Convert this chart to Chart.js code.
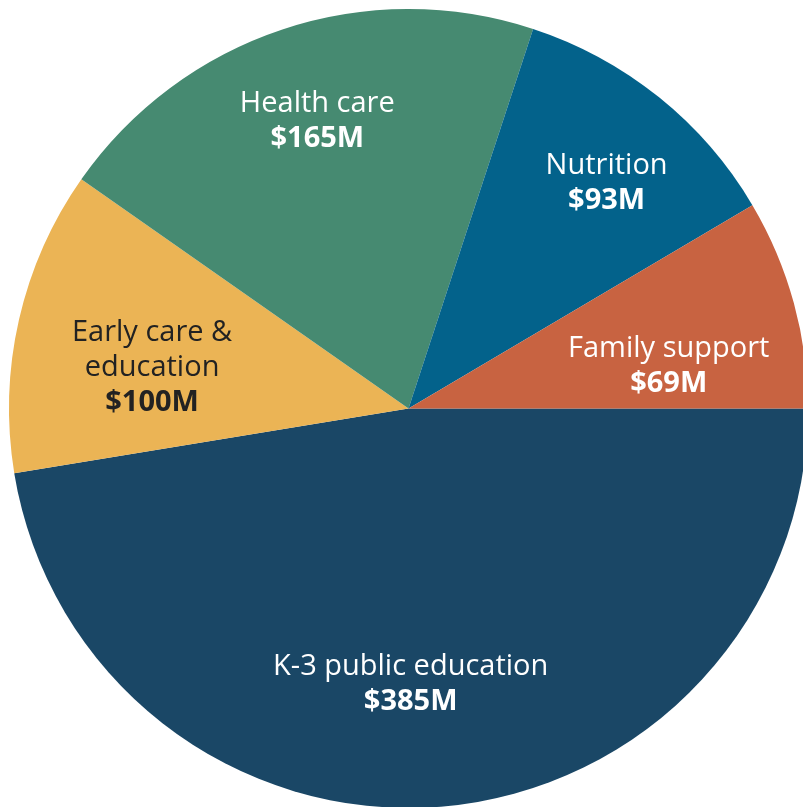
<!DOCTYPE html>
<html>
<head>
<meta charset="utf-8">
<script src="https://cdn.jsdelivr.net/npm/chart.js@4"></script>
<style>
  html, body { margin: 0; padding: 0; background: #ffffff; overflow: hidden; }
  #wrap { position: absolute; left: 0; top: 0; width: 817px; height: 817px; }
</style>
</head>
<body>
<div id="wrap"><canvas id="budget-pie"></canvas></div>
<script>
// Spending categories (clockwise from 3 o'clock)
var categories = ['K-3 public education', 'Early care & education', 'Health care', 'Nutrition', 'Family support'];
var amounts = [385, 100, 165, 93, 69];       // $ millions
var valueLabels = ['$385M', '$100M', '$165M', '$93M', '$69M'];
var nameLines = [['K-3 public education'], ['Early care &', 'education'], ['Health care'], ['Nutrition'], ['Family support']];

var sliceColors = ['#1a4766', '#ebb455', '#468a71', '#03628b', '#c86341'];
var textColors = ['#ffffff', '#222222', '#ffffff', '#ffffff', '#ffffff'];
// label placement: angle nudge (deg) and fraction of radius
var labelNudge = [4.2, -3.8, 0.8, 2.6, 6];
var labelRadius = [0.69, 0.65, 0.755, 0.75, 0.66];

// Draws the name + amount inside each slice
var sliceLabels = {
  id: 'sliceLabels',
  afterDatasetsDraw: function(chart) {
    var ctx = chart.ctx;
    var meta = chart.getDatasetMeta(0);
    ctx.save();
    ctx.textAlign = 'center';
    ctx.textBaseline = 'middle';
    meta.data.forEach(function(arc, i) {
      var p = arc.getProps(['x', 'y', 'startAngle', 'endAngle', 'outerRadius'], true);
      var mid = (p.startAngle + p.endAngle) / 2 + labelNudge[i] * Math.PI / 180;
      var r = p.outerRadius * labelRadius[i];
      var cx = p.x + Math.cos(mid) * r;
      var cy = p.y + Math.sin(mid) * r;
      var lines = nameLines[i].length + 1;
      var lh = 35;
      var y0 = cy - (lines - 1) * lh / 2;
      ctx.fillStyle = textColors[i];
      ctx.font = '29px "Open Sans"';
      nameLines[i].forEach(function(t, k) {
        ctx.fillText(t, cx, y0 + k * lh);
      });
      ctx.font = 'bold 29px "Open Sans"';
      ctx.fillText(valueLabels[i], cx, y0 + nameLines[i].length * lh);
    });
    ctx.restore();
  }
};

var ctx = document.getElementById('budget-pie').getContext('2d');
var pieChart = new Chart(ctx, {
  type: 'pie',
  data: {
    labels: categories,
    datasets: [{
      data: amounts,
      backgroundColor: sliceColors,
      borderWidth: 0
    }]
  },
  options: {
    responsive: true,
    maintainAspectRatio: false,
    animation: false,
    rotation: 90,
    layout: { padding: 9 },
    plugins: {
      legend: { display: false },
      tooltip: { enabled: false }
    }
  },
  plugins: [sliceLabels]
});
</script>
</body>
</html>
